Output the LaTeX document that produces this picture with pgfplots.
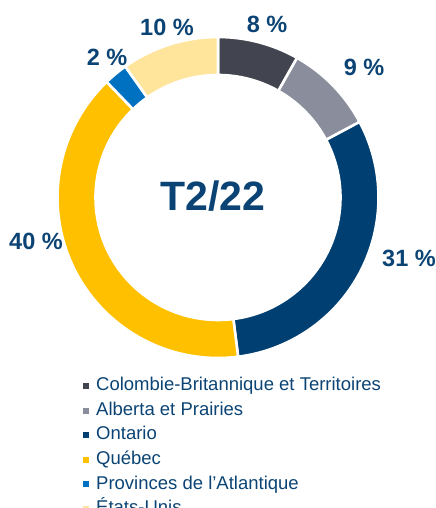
\documentclass[border=0pt]{standalone}
\usepackage{pgfplots}
\pgfplotsset{compat=1.18}
\usepackage{pgfplotstable}
\usepackage{fontspec}
\setmainfont{Liberation Sans}

\definecolor{colBT}{HTML}{42454F}
\definecolor{colAP}{HTML}{8A8E9C}
\definecolor{colON}{HTML}{003F71}
\definecolor{colQC}{HTML}{FFC000}
\definecolor{colAT}{HTML}{0070C0}
\definecolor{colUS}{HTML}{FFE59C}
\definecolor{txt}{HTML}{0B4474}

% share of each region (%), clockwise from 12 o'clock
\pgfplotstableread{
share col
8.2  colBT
9.0  colAP
30.8 colON
39.8 colQC
2.4  colAT
9.8  colUS
}\data

\begin{document}
\begin{tikzpicture}
\begin{axis}[
    at={(0,0)}, anchor=south west,
    scale only axis, width=436bp, height=508bp,
    xmin=0, xmax=436, ymin=0, ymax=508,
    hide axis, clip=false,
    legend style={at={(axis cs:83,131)}, anchor=north west,
        draw=none, fill=none, inner sep=0pt,
        font=\fontsize{18.5bp}{21bp}\selectfont, text=txt,
        row sep=7.1bp,
        nodes={inner xsep=7bp, inner ysep=0pt,
               text height=13.5bp, text depth=4bp}},
    legend cell align=left,
]
\def\cum{0}
\pgfplotsforeachungrouped \i in {0,...,5}{%
  \pgfplotstablegetelem{\i}{share}\of\data \let\s=\pgfplotsretval
  \pgfplotstablegetelem{\i}{col}\of\data \let\c=\pgfplotsretval
  \pgfmathsetmacro\aa{90-3.6*\cum}%
  \pgfmathsetmacro\cum{\cum+\s}%
  \pgfmathsetmacro\bb{90-3.6*\cum}%
  \edef\temp{\noexpand\fill[fill=\c, draw=white, line width=2.6bp,
      shift={(axis cs:218,310.5)}]
    (\aa:160.5bp) arc[start angle=\aa, end angle=\bb, radius=160.5bp]
    -- (\bb:122.5bp) arc[start angle=\bb, end angle=\aa, radius=122.5bp]
    -- cycle;}%
  \temp
}

\pgfplotsinvokeforeach{colBT,colAP,colON,colQC,colAT,colUS}{%
  \addlegendimage{legend image code/.code={
      \fill[fill=#1, draw=none] (0bp,-3bp) rectangle (6bp,3bp);}}
}
\legend{Colombie-Britannique et Territoires, Alberta et Prairies, Ontario,
  Québec, Provinces de l’Atlantique, États-Unis}

\begin{scope}[every node/.style={text=txt,
    font=\bfseries\fontsize{23.5bp}{28bp}\selectfont}]
\node at (axis cs:267,484) {8 \%};
\node at (axis cs:364,441) {9 \%};
\node[anchor=west, inner xsep=0pt] at (axis cs:382,250) {31 \%};
\node at (axis cs:36,267) {40 \%};
\node at (axis cs:107,451) {2 \%};
\node at (axis cs:167,481) {10 \%};
\end{scope}
\node[text=txt, font=\bfseries\fontsize{41bp}{48bp}\selectfont]
  at (axis cs:213,312) {T2/22};
\end{axis}
\pgfresetboundingbox
\useasboundingbox (0,0) rectangle (436bp,508bp);
\end{tikzpicture}
\end{document}
